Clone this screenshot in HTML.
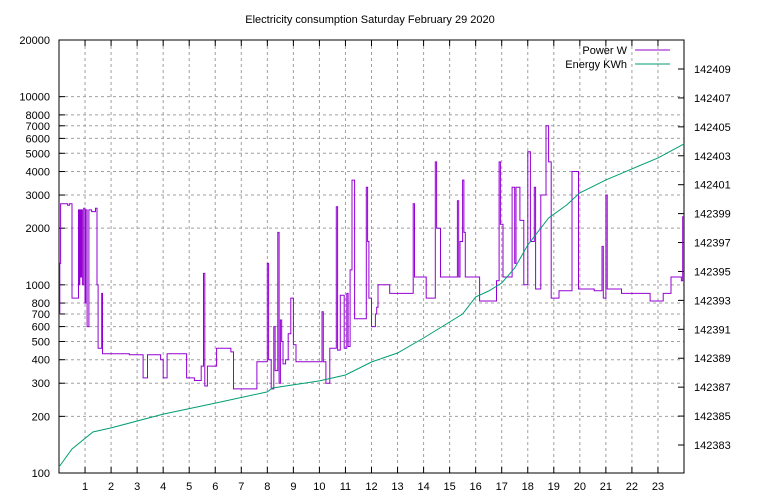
<!DOCTYPE html>
<html><head><meta charset="utf-8"><style>
body{margin:0;background:#fff}
svg{display:block;font-family:"Liberation Sans","DejaVu Sans",sans-serif;font-size:11px}
</style></head><body>
<svg id="chart" width="768" height="500" viewBox="0 0 768 500" xmlns="http://www.w3.org/2000/svg">
<rect width="768" height="500" fill="#fff"/>
<text x="370" y="23" text-anchor="middle">Electricity consumption Saturday February 29 2020</text>
<g id="grid"></g><g id="axes"></g><g id="series"></g>
<g>
<text x="627" y="54" text-anchor="end">Power W</text>
<line x1="635" y1="50" x2="670" y2="50" stroke="#9400d3" stroke-width="1"/>
<text x="627" y="68" text-anchor="end">Energy KWh</text>
<line x1="635" y1="64" x2="670" y2="64" stroke="#009e73" stroke-width="1"/>
</g>
</svg>
<script>
const powerHours=[0,0.03,0.06,0.33,0.4,0.5,0.75,0.78,0.8,0.83,0.86,0.9,0.95,1.0,1.03,1.08,1.15,1.25,1.4,1.46,1.5,1.64,1.67,2.7,3.23,3.4,3.9,4.0,4.15,4.9,5.2,5.46,5.55,5.6,5.7,6.05,6.6,6.7,7.6,8.0,8.05,8.15,8.25,8.3,8.4,8.45,8.5,8.55,8.6,8.7,8.8,8.9,9.0,9.1,10.1,10.15,10.25,10.4,10.65,10.7,10.8,10.95,11.05,11.1,11.18,11.25,11.35,11.8,11.85,11.9,12.0,12.15,12.2,12.25,12.7,13.6,13.65,14.1,14.45,14.5,14.65,15.3,15.35,15.4,15.5,15.55,15.6,16.15,16.8,16.9,16.95,17.05,17.4,17.5,17.55,17.7,17.85,18.0,18.1,18.25,18.3,18.5,18.7,18.8,18.9,19.2,19.7,19.95,20.55,20.85,20.9,21.0,21.05,21.6,22.7,23.2,23.5,23.9,23.95];
const powerWatts=[700,1300,2700,2650,2700,850,2500,1000,2500,1100,2500,1000,2550,800,2500,600,2500,2450,2550,1000,460,900,430,425,320,425,400,320,430,320,310,370,1150,290,370,460,440,280,390,1300,400,280,600,350,1900,300,650,500,380,400,550,850,480,390,720,390,300,460,2600,450,880,460,900,470,1200,3600,660,3300,1700,850,600,700,760,1000,900,2700,1100,850,4500,2000,1100,2800,1100,1700,3600,1900,1100,820,1050,4500,2100,1100,3300,1300,3300,2200,1000,5100,1700,3300,950,3000,7000,4500,850,930,4000,950,930,1600,850,3000,950,900,820,900,1100,1050,2300];
const energyHours=[0,0.5,1.3,2,4,6,8,8.2,10,11,12,13,14,14.5,15.5,16,16.5,17,17.5,18,18.8,19.5,20,21,22,23,24];
const energyKWh=[142381.48,142382.72,142383.9,142384.18,142385.14,142385.9,142386.67,142386.94,142387.43,142387.84,142388.74,142389.36,142390.4,142390.95,142392.06,142393.24,142393.65,142394.2,142395.24,142396.83,142398.7,142399.6,142400.43,142401.33,142402.09,142402.85,142403.82];
const xTicks=[1,2,3,4,5,6,7,8,9,10,11,12,13,14,15,16,17,18,19,20,21,22,23];
const yTicks=[100,200,300,400,500,600,700,800,1000,2000,3000,4000,5000,6000,7000,8000,10000,20000];
const yLabels=["100","200","300","400","500","600","700","800","1000","2000","3000","4000","5000","6000","7000","8000","10000","20000"];
const y2Ticks=[142383,142385,142387,142389,142391,142393,142395,142397,142399,142401,142403,142405,142407,142409];

const L=59,R=684,T=40,B=473,NS="http://www.w3.org/2000/svg";
const xs=h=>L+(h/24)*(R-L);
const ys=v=>B-(Math.log10(v)-2)/(Math.log10(20000)-2)*(B-T);
const y2=e=>445-(e-142383)*(445-69)/26;
function mk(tag,attrs,parent){const e=document.createElementNS(NS,tag);for(const k in attrs)e.setAttribute(k,attrs[k]);parent.appendChild(e);return e;}
const grid=document.getElementById('grid'),axes=document.getElementById('axes'),ser=document.getElementById('series');
xTicks.forEach(t=>{const x=xs(t);
 const g=mk('line',{x1:x,x2:x,y1:T,y2:B,stroke:'#a0a0a0','stroke-dasharray':'3,3'},grid);
 
 
 mk('line',{x1:x,x2:x,y1:B,y2:B-6,stroke:'#000'},axes);mk('line',{x1:x,x2:x,y1:T,y2:T+6,stroke:'#000'},axes);
 const tx=mk('text',{x:x,y:B+17,'text-anchor':'middle'},axes);tx.textContent=t;
 
 
});
yTicks.forEach((t,i)=>{const y=ys(t);
 if(t>100&&t<20000){const g=mk('line',{x1:L,x2:R,y1:y,y2:y,stroke:'#a0a0a0','stroke-dasharray':'3,3'},grid);
 
 }
 mk('line',{x1:L,x2:L+6,y1:y,y2:y,stroke:'#000'},axes);
 const tx=mk('text',{x:L-9,y:y+4,'text-anchor':'end'},axes);tx.textContent=yLabels[i];
 
 
});
y2Ticks.forEach(t=>{const y=y2(t);
 mk('line',{x1:R,x2:R-6,y1:y,y2:y,stroke:'#000'},axes);
 const tx=mk('text',{x:R+10,y:y+4,'text-anchor':'start'},axes);tx.textContent=t;
 
 
});
const fr=mk('rect',{x:L,y:T,width:R-L,height:B-T,fill:'none',stroke:'#000'},axes);


let d='';
powerHours.forEach((h,i)=>{const x=xs(h).toFixed(1),y=ys(powerWatts[i]).toFixed(1);
 if(i===0)d+='M'+x+','+y;else d+='H'+x+'V'+y;});
d+='H'+xs(24).toFixed(1);
const pl=mk('path',{d:d,fill:'none',stroke:'#9400d3','stroke-width':1},ser);


const pts=energyHours.map((h,i)=>xs(h).toFixed(1)+','+y2(energyKWh[i]).toFixed(1)).join(' ');
const el=mk('polyline',{points:pts,fill:'none',stroke:'#009e73','stroke-width':1},ser);


</script>
</body></html>
